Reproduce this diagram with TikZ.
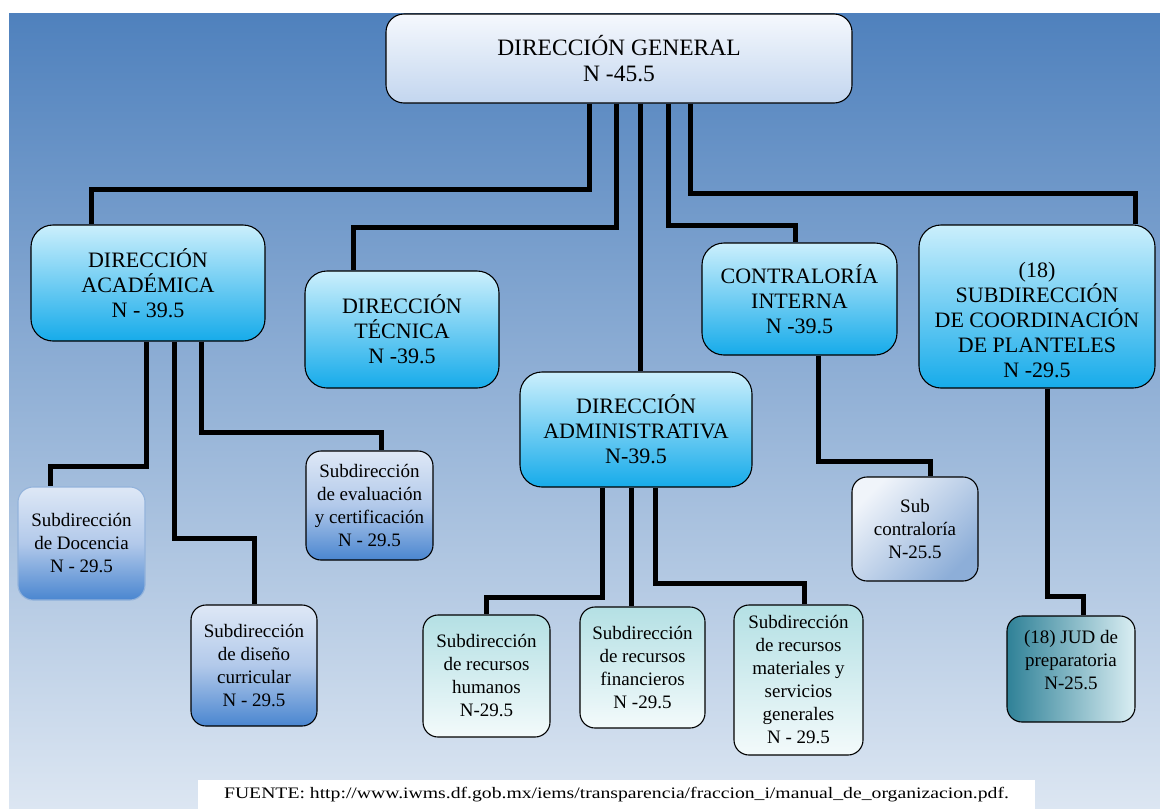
\documentclass[tikz,border=0pt]{standalone}
\usepackage{fontspec}
\setmainfont{Liberation Serif}
\usetikzlibrary{calc}
\definecolor{bgtop}{HTML}{4F81BD}
\definecolor{bgbot}{HTML}{DCE6F2}
\definecolor{gentop}{HTML}{F5F8FD}
\definecolor{genbot}{HTML}{C3D6EF}
\definecolor{dirtop}{HTML}{CBEFFC}
\definecolor{dirbot}{HTML}{16ABEA}
\definecolor{bluetop}{HTML}{DEE8F6}
\definecolor{bluemid}{HTML}{B2C9EA}
\definecolor{bluebot}{HTML}{4A86D0}
\definecolor{tealtop}{HTML}{B4E0E4}
\definecolor{tealbot}{HTML}{F3FAFB}
\definecolor{contop}{HTML}{F0F4FA}
\definecolor{conbot}{HTML}{8DAED8}
\definecolor{judleft}{HTML}{2F8197}
\definecolor{judright}{HTML}{DAEEF3}
\definecolor{softedge}{HTML}{93B3DB}
\tikzset{
  box/.style={draw, line width=1.1pt, align=center, inner sep=0pt, text=black},
  genbox/.style={box, rounded corners=18pt, top color=gentop, bottom color=genbot,
                 font=\fontsize{23.5}{26}\selectfont},
  dirfont/.style={align=center, font=\fontsize{22}{25}\selectfont},
  dirbox/.style={box, dirfont, rounded corners=22pt, top color=dirtop, bottom color=dirbot},
  subfont/.style={align=center, font=\fontsize{19}{23}\selectfont},
  subbox/.style={box, subfont, rounded corners=15pt},
  bluesub/.style={subbox, top color=bluetop, bottom color=bluebot, middle color=bluemid},
  tealsub/.style={subbox, top color=tealtop, bottom color=tealbot},
  link/.style={line width=5pt, line join=miter}
}
\begin{document}
\begin{tikzpicture}[x=1pt, y=-1pt]
  \useasboundingbox (0,0) rectangle (1160,809);
  \fill[top color=bgtop, bottom color=bgbot] (9,13) rectangle (1160,809);

  % level 1 and 2
  \node[genbox, minimum width=466pt, minimum height=89pt] (gen) at (619,58.5) {DIRECCIÓN GENERAL\\N -45.5};
  \node[dirbox, minimum width=234pt, minimum height=116pt] (acad) at (148,283) {DIRECCIÓN\\ACADÉMICA\\N - 39.5};
  \node[dirbox, minimum width=194pt, minimum height=117pt] (tecn) at (402,329.5) {DIRECCIÓN\\TÉCNICA\\N -39.5};
  \node[dirbox, minimum width=232pt, minimum height=115pt] (admin) at (636,429.5) {DIRECCIÓN\\ADMINISTRATIVA\\N-39.5};
  \node[dirbox, minimum width=195pt, minimum height=112pt] (contra) at (799.5,299) {CONTRALORÍA\\INTERNA\\N -39.5};
  \node[dirbox, minimum width=236pt, minimum height=163pt] (coord) at (1037,306.5) {};
  \node[dirfont] (coordtxt) at ([yshift=-14pt]coord.center) {(18)\\SUBDIRECCIÓN\\DE COORDINACIÓN\\DE PLANTELES\\N -29.5};

  % level 3
  \node[bluesub, draw=softedge, minimum width=127pt, minimum height=113pt] (doc) at (81.5,543.5) {Subdirección\\de Docencia\\N - 29.5};
  \node[bluesub, minimum width=126pt, minimum height=121pt] (diseno) at (254,665.5) {Subdirección\\de diseño\\curricular\\N - 29.5};
  \node[bluesub, minimum width=127pt, minimum height=109pt] (eval) at (369.5,505.5) {Subdirección\\de evaluación\\y certificación\\N - 29.5};
  \node[tealsub, minimum width=127pt, minimum height=122pt] (rh) at (486.5,676) {Subdirección\\de recursos\\humanos\\N-29.5};
  \node[tealsub, minimum width=125pt, minimum height=121pt] (rf) at (642.5,667.5) {Subdirección\\de recursos\\financieros\\N -29.5};
  \node[tealsub, minimum width=129pt, minimum height=150pt] (rm) at (798.5,680) {Subdirección\\de recursos\\materiales y\\servicios\\generales\\N - 29.5};
  \node[subbox, top color=contop, bottom color=conbot, shading angle=45, minimum width=126pt, minimum height=104pt] (subc) at (915,529) {Sub\\contraloría\\N-25.5};
  \node[subbox, left color=judleft, right color=judright, minimum width=128pt, minimum height=106pt] (jud) at (1071,669) {};
  \node[subfont] (judtxt) at ([yshift=9pt]jud.center) {(18) JUD de\\preparatoria\\N-25.5};

  % connectors
  \draw[link] ([xshift=-30pt]gen.south) |- ([xshift=-57pt,yshift=35pt]acad.north) -- ([xshift=-57pt]acad.north);
  \draw[link] ([xshift=-3pt]gen.south) |- ([xshift=-49pt,yshift=43pt]tecn.north) -- ([xshift=-49pt]tecn.north);
  \draw[link] ([xshift=21pt]gen.south) -- ([xshift=21pt]gen.south |- admin.north);
  \draw[link] ([xshift=49pt]gen.south) |- ([xshift=-4.5pt,yshift=17pt]contra.north) -- ([xshift=-4.5pt]contra.north);
  \draw[link] ([xshift=71pt]gen.south) |- ([xshift=98pt,yshift=31pt]coord.north) -- ([xshift=98pt]coord.north);

  \draw[link] ([xshift=-2pt]acad.south) |- ([xshift=-31.5pt,yshift=20pt]doc.north) -- ([xshift=-31.5pt]doc.north);
  \draw[link] ([xshift=26pt]acad.south) |- ([yshift=66pt]diseno.north) -- (diseno.north);
  \draw[link] ([xshift=53pt]acad.south) |- ([xshift=11.5pt,yshift=18pt]eval.north) -- ([xshift=11.5pt]eval.north);

  \draw[link] ([xshift=-34pt]admin.south) |- ([yshift=17pt]rh.north) -- (rh.north);
  \draw[link] ([xshift=-5pt]admin.south) -- ([xshift=-5pt]admin.south |- rf.north);
  \draw[link] ([xshift=19pt]admin.south) |- ([xshift=5.5pt,yshift=21pt]rm.north) -- ([xshift=5.5pt]rm.north);

  \draw[link] ([xshift=18.5pt]contra.south) |- ([xshift=15pt,yshift=15pt]subc.north) -- ([xshift=15pt]subc.north);
  \draw[link] ([xshift=10pt]coord.south) |- ([xshift=12pt,yshift=19pt]jud.north) -- ([xshift=12pt]jud.north);

  % source
  \node[fill=white, minimum width=837pt, minimum height=29pt, inner sep=0pt, font=\fontsize{16}{18}\selectfont] (fuente) at (616.5,794.5)
    {\scalebox{1.23}[1]{FUENTE: http://www.iwms.df.gob.mx/iems/transparencia/fraccion\_i/manual\_de\_organizacion.pdf.}};
\end{tikzpicture}
\end{document}
